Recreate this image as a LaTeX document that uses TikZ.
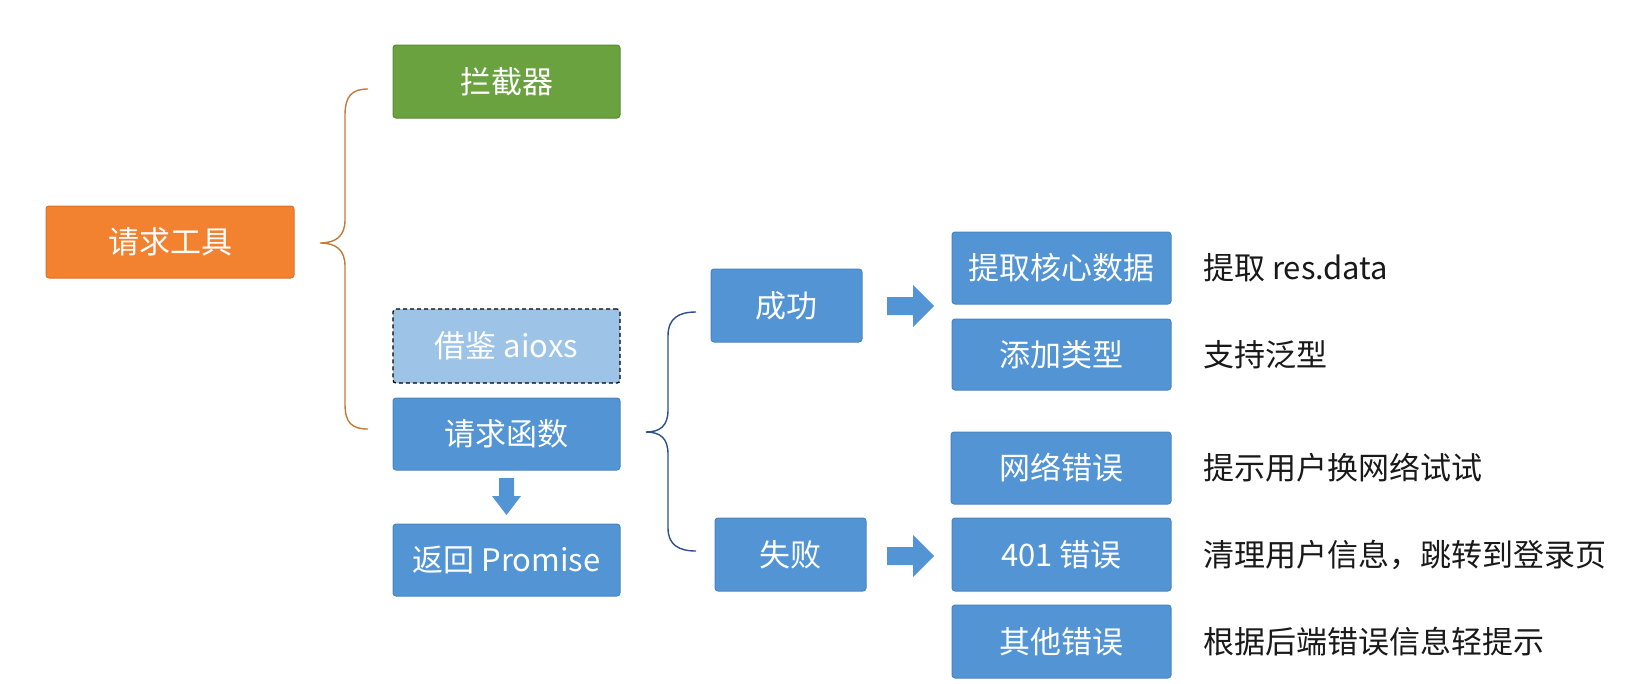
\documentclass[tikz,border=0pt]{standalone}
\usepackage{fontspec}
\setmainfont{Noto Sans CJK SC}
\usetikzlibrary{calc}
\definecolor{orangeF}{HTML}{F28130}
\definecolor{orangeD}{HTML}{D9732A}
\definecolor{greenF}{HTML}{6AA240}
\definecolor{greenD}{HTML}{5A8A36}
\definecolor{blueF}{HTML}{5294D4}
\definecolor{blueD}{HTML}{4A86C0}
\definecolor{lblueF}{HTML}{9DC3E6}
\definecolor{braceO}{HTML}{C47B35}
\definecolor{braceB}{HTML}{2E4F8C}
\tikzset{
  box/.style={rounded corners=3pt, line width=1pt, text=white,
    font=\fontsize{31}{36}\selectfont, inner sep=0pt, anchor=center},
  bluebox/.style={box, fill=blueF, draw=blueD},
  note/.style={anchor=west, inner sep=0pt, text=black!90, font=\fontsize{31}{36}\selectfont},
  blockarrow/.style={fill=blueF, draw=none},
  bracepath/.style={line width=1.4pt}
}
\begin{document}
\begin{tikzpicture}[x=1pt,y=-1pt]
\useasboundingbox (0,0) rectangle (1640,683);
\fill[white] (0,0) rectangle (1640,683);

\node[box, fill=orangeF, draw=orangeD, minimum width=248, minimum height=72] (req) at (170,242) {请求工具};
\node[box, fill=greenF, draw=greenD, minimum width=227, minimum height=73] (lanjie) at (506.5,81.5) {拦截器};
\node[box, fill=lblueF, draw=black, line width=1.3pt, dash pattern=on 4pt off 3pt, minimum width=227, minimum height=74] (jiejian) at (506.5,346) {借鉴 aioxs};
\node[bluebox, minimum width=227, minimum height=72] (func) at (506.5,434) {请求函数};
\node[bluebox, minimum width=227, minimum height=72] (ret) at (506.5,560) {返回 Promise};
\node[bluebox, minimum width=151, minimum height=73] (succ) at (786.5,305.5) {成功};
\node[bluebox, minimum width=151, minimum height=73] (fail) at (790.5,554.5) {失败};
\node[bluebox, minimum width=219, minimum height=72] (r1) at (1061.5,268) {提取核心数据};
\node[bluebox, minimum width=219, minimum height=71] (r2) at (1061.5,354.5) {添加类型};
\node[bluebox, minimum width=220, minimum height=72] (r3) at (1061,468) {网络错误};
\node[bluebox, minimum width=219, minimum height=73] (r4) at (1061.5,554.5) {401 错误};
\node[bluebox, minimum width=219, minimum height=73] (r5) at (1061.5,641.5) {其他错误};

\coordinate (tx) at (1203,0);
\node[note] (t1) at (tx |- r1) {提取 res.data};
\node[note] (t2) at (tx |- r2) {支持泛型};
\node[note] (t3) at (tx |- r3) {提示用户换网络试试};
\node[note] (t4) at (tx |- r4) {清理用户信息，跳转到登录页};
\node[note] (t5) at (tx |- r5) {根据后端错误信息轻提示};

% orange brace
\draw[bracepath, draw=braceO]
  (368,89) .. controls (352,89) and (345,96) .. (345,115) -- (345,220)
  .. controls (345,236) and (336,243) .. (320,243)
  .. controls (336,243) and (345,250) .. (345,266) -- (345,404)
  .. controls (345,423) and (352,429) .. (368,429);

% blue brace
\draw[bracepath, draw=braceB]
  (696,312) .. controls (679,312) and (668,318) .. (668,336) -- (668,410)
  .. controls (668,426) and (660,432) .. (646,432)
  .. controls (660,432) and (668,438) .. (668,454) -- (668,528)
  .. controls (668,545) and (679,551) .. (696,551);

% down block arrow
\coordinate (da) at ($(func.south)!0.5!(ret.north)$);
\fill[blockarrow] ($(da)+(-7.5,-19)$) -- ($(da)+(7.5,-19)$) -- ($(da)+(7.5,-1)$)
  -- ($(da)+(14.5,-1)$) -- ($(da)+(0,18)$) -- ($(da)+(-14.5,-1)$) -- ($(da)+(-7.5,-1)$) -- cycle;

% right block arrows
\coordinate (ra1) at (887,306);
\coordinate (ra2) at (887,556);
\foreach \c in {ra1,ra2}{
  \fill[blockarrow] ($(\c)+(0,-9)$) -- ($(\c)+(26,-9)$) -- ($(\c)+(26,-21)$)
    -- ($(\c)+(47,0)$) -- ($(\c)+(26,21)$) -- ($(\c)+(26,9)$) -- ($(\c)+(0,9)$) -- cycle;
}
\end{tikzpicture}
\end{document}
